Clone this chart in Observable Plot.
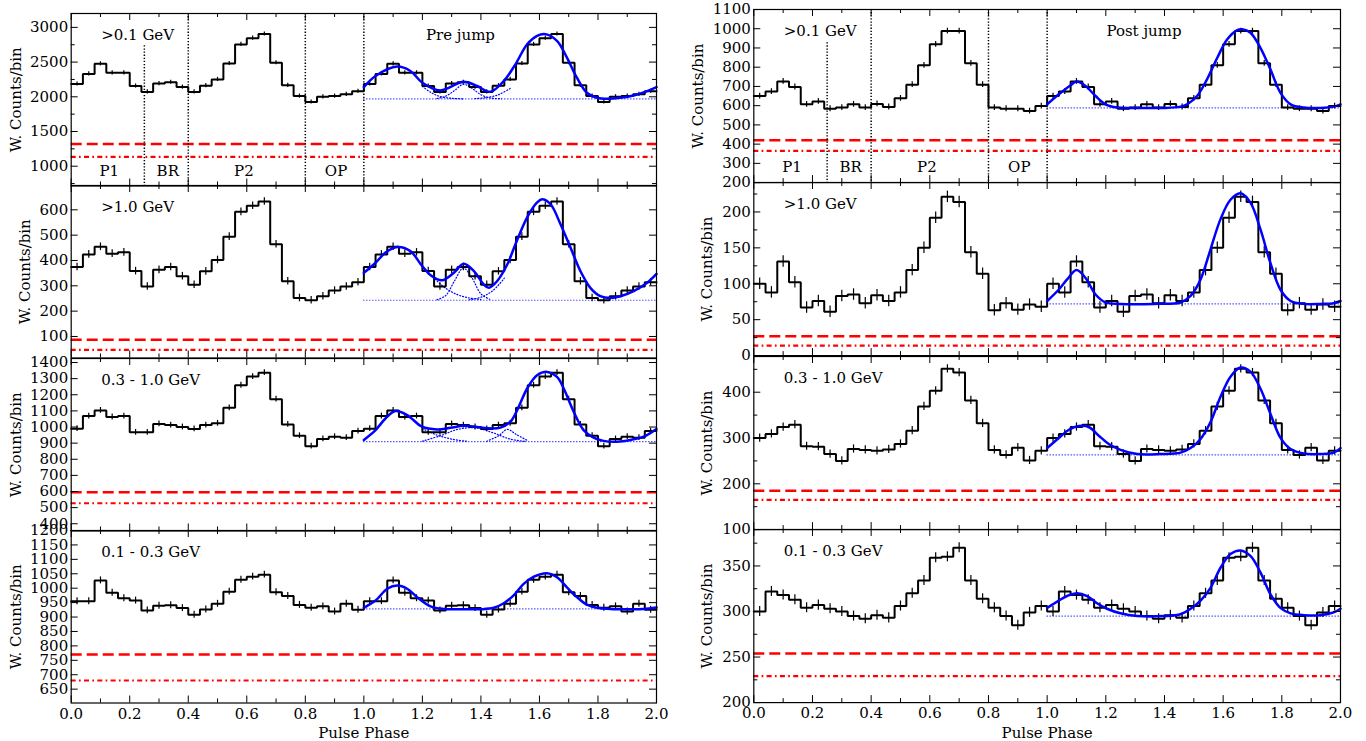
<!DOCTYPE html>
<html>
<head>
<meta charset="utf-8">
<script src="https://cdn.jsdelivr.net/npm/d3@7"></script>
<script src="https://cdn.jsdelivr.net/npm/@observablehq/plot@0.6"></script>
<style>
html,body{margin:0;padding:0;background:#fff;}
#chart{position:relative;width:1366px;height:741px;overflow:hidden;background:#fff;}
#chart svg{position:absolute;overflow:visible;}
</style>
</head>
<body>
<div id="chart"></div>
<script>
// ---------- categories / labels ----------
const nBins = 25, binWidth = 0.04;
const regionBounds = [0.25, 0.4, 0.8, 1.0];
const regionNames = ["P1", "BR", "P2", "OP"];
const regionLabelPhase = [0.13, 0.33, 0.59, 0.905];
const xTickLabels = [0, 0.2, 0.4, 0.6, 0.8, 1.0, 1.2, 1.4, 1.6, 1.8, 2.0];
const xMinorTicks = [0.1, 0.3, 0.5, 0.7, 0.9, 1.1, 1.3, 1.5, 1.7, 1.9];
const bandLabels = [">0.1 GeV", ">1.0 GeV", "0.3 - 1.0 GeV", "0.1 - 0.3 GeV"];
const epochLabels = ["Pre jump", "Post jump"];
const epochLabelPhase = 1.33;
const yTitle = "W. Counts/bin";
const xTitle = "Pulse Phase";

// ---------- weighted counts per bin (one rotation, shown twice) ----------
const preGt01  = [2185,2330,2475,2345,2345,2155,2070,2190,2210,2140,2070,2160,2250,2480,2755,2845,2905,2490,2165,2010,1925,2000,2010,2035,2080];
const preGt1   = [374,424,454,427,432,358,297,363,374,338,304,357,402,494,592,616,633,464,318,252,243,259,281,297,314];
const pre0310  = [990,1068,1103,1062,1068,967,967,1019,1012,1000,988,1012,1023,1119,1259,1313,1337,1173,1016,946,881,926,940,934,975];
const pre0103  = [955,955,1027,984,965,957,923,939,941,931,908,926,946,988,1029,1040,1047,986,973,942,932,937,919,946,925];
const postGt01 = [650,673,726,697,607,622,584,590,607,590,609,593,638,709,810,919,988,988,820,709,590,584,584,572,598];
const postGt1  = [100,88,131,102,67,76,61,83,85,73,84,76,88,119,150,192,221,214,144,114,63,73,64,71,68];
const post0310 = [300,309,324,329,282,281,265,250,276,274,272,275,287,316,369,403,451,443,382,332,274,263,279,251,272];
const post0103 = [300,322,318,313,304,307,303,300,295,292,296,293,306,320,334,359,360,370,334,314,304,295,285,299,306];

// error bar half-heights
const preErr  = [30, 15, 18, 12];
const postErr = [15, 8, 9, 5.5];

// background levels (red) and fit baselines (blue dotted)
const preDashed   = [1320, 87, 595, 770];
const preDashDot  = [1135, 47, 527, 680];
const postDashed  = [420, 27, 185, 254];
const postDashDot = [365, 14, 165, 229];
const preBase  = [1970, 243, 909, 928];
const postBase = [588, 72, 263, 295];
const brLineTop = [2735, 927];

// y axes
const preYDomain  = [[715, 3200], [15, 696], [355, 1425], [602, 1200]];
const postYDomain = [[200, 1100], [0, 241], [100, 478], [200, 390]];
const preYTicks  = [[1000,1500,2000,2500,3000],[100,200,300,400,500,600],[400,500,600,700,800,900,1000,1100,1200,1300,1400],[650,700,750,800,850,900,950,1000,1050,1100,1150,1200]];
const postYTicks = [[200,300,400,500,600,700,800,900,1000,1100],[0,50,100,150,200],[100,200,300,400],[200,250,300,350]];
const preYMinorStep  = [250, 100, 100, 50];
const postYMinorStep = [100, 25, 50, 25];

// ---------- fitted light curves [phase, value] ----------
const fitPreGt01 = [[1.0,2140],[1.04,2300],[1.114,2435],[1.159,2372],[1.2,2203],[1.261,2092],[1.341,2217],[1.387,2155],[1.432,2072],[1.478,2227],[1.518,2468],[1.558,2758],[1.592,2879],[1.62,2903],[1.66,2807],[1.694,2565],[1.728,2275],[1.762,2058],[1.796,1986],[1.836,1971],[1.876,1986],[1.922,2019],[1.968,2082],[2.0,2140]];
const fitPreGt1 = [[1.0,351],[1.04,391],[1.074,431],[1.114,453],[1.159,437],[1.199,378],[1.228,342],[1.267,322],[1.307,351],[1.341,387],[1.376,358],[1.41,305],[1.427,292],[1.455,318],[1.49,384],[1.518,464],[1.558,570],[1.592,629],[1.609,642],[1.638,622],[1.672,543],[1.706,451],[1.74,358],[1.774,292],[1.808,259],[1.843,252],[1.877,259],[1.922,279],[1.968,312],[2.0,347]];
const fitPre0310 = [[1.0,920],[1.04,981],[1.074,1053],[1.108,1099],[1.148,1074],[1.199,1002],[1.25,985],[1.296,995],[1.341,1008],[1.387,1000],[1.421,992],[1.467,996],[1.501,1033],[1.524,1105],[1.558,1239],[1.592,1321],[1.626,1342],[1.66,1311],[1.683,1239],[1.717,1095],[1.751,981],[1.785,934],[1.819,914],[1.865,909],[1.911,920],[1.956,940],[2.0,988]];
const fitPre0103 = [[1.0,932],[1.04,957],[1.08,998],[1.114,1009],[1.148,998],[1.182,969],[1.228,937],[1.273,928],[1.341,927],[1.398,927],[1.444,932],[1.478,948],[1.512,975],[1.546,1015],[1.581,1040],[1.626,1052],[1.66,1038],[1.694,1003],[1.728,969],[1.762,943],[1.796,932],[1.842,928],[1.911,927],[1.956,928],[2.0,933]];
const fitPostGt01 = [[1.0,607],[1.04,659],[1.08,706],[1.1,725],[1.131,702],[1.165,650],[1.199,607],[1.239,590],[1.307,588],[1.398,588],[1.455,595],[1.477,607],[1.511,650],[1.545,737],[1.58,849],[1.614,945],[1.648,993],[1.665,997],[1.693,979],[1.727,901],[1.761,789],[1.795,668],[1.83,607],[1.875,590],[1.932,588],[1.977,595],[2.0,607]];
const fitPostGt1 = [[1.0,76],[1.04,92],[1.068,106],[1.1,119],[1.131,108],[1.165,85],[1.199,74],[1.25,72],[1.364,72],[1.455,74],[1.489,83],[1.523,106],[1.557,148],[1.591,190],[1.625,217],[1.659,226],[1.693,213],[1.727,176],[1.761,129],[1.795,92],[1.83,76],[1.875,72],[1.932,72],[1.977,73],[2.0,76]];
const fitPost0310 = [[1.0,278],[1.04,300],[1.074,318],[1.108,326],[1.142,324],[1.176,305],[1.21,287],[1.25,274],[1.307,265],[1.386,265],[1.455,268],[1.489,278],[1.523,298],[1.557,335],[1.591,390],[1.625,434],[1.659,454],[1.693,445],[1.727,408],[1.761,353],[1.795,301],[1.83,276],[1.875,266],[1.932,265],[1.977,268],[2.0,278]];
const fitPost0103 = [[1.0,304],[1.04,312],[1.068,317],[1.102,320],[1.136,317],[1.17,309],[1.204,303],[1.25,298],[1.307,295],[1.398,295],[1.455,297],[1.489,303],[1.523,312],[1.557,326],[1.591,348],[1.625,363],[1.659,367],[1.693,361],[1.727,343],[1.761,319],[1.795,304],[1.83,298],[1.875,296],[1.932,296],[1.977,299],[2.0,303]];

// individual fit components (visible parts, dotted)
const compPreGt01 = [
  [[1.2,2150],[1.23,2060],[1.26,2005],[1.3,1978],[1.34,1971]],
  [[1.25,1975],[1.28,2010],[1.31,2090],[1.34,2180],[1.37,2120],[1.40,2030],[1.43,1985],[1.47,1972]],
  [[1.38,1975],[1.42,1990],[1.46,2030],[1.5,2120]]
];
const compPreGt1 = [
  [[1.2,378],[1.24,330],[1.28,290],[1.32,265],[1.36,252],[1.4,246]],
  [[1.25,245],[1.28,262],[1.31,320],[1.34,370],[1.37,330],[1.40,268],[1.43,247]],
  [[1.36,245],[1.40,255],[1.44,280],[1.48,330]]
];
const compPre0310 = [
  [[1.2,990],[1.25,950],[1.3,925],[1.35,912]],
  [[1.2,912],[1.26,945],[1.32,985],[1.38,995],[1.44,965],[1.5,925],[1.55,911]],
  [[1.42,912],[1.46,945],[1.49,985],[1.52,955],[1.56,915]]
];

// ---------- layout ----------
const W = 672;
const cols = [
  {left: 0,   mL: 70.7, mR: 16, tops: [12.5, 185, 357.5, 530],    h: 172.5},
  {left: 683, mL: 70.3, mR: 15, tops: [9.3, 182.4, 355.5, 528.6], h: 173.1}
];
const FONT = "'DejaVu Serif', serif";

const panels = [];
const preVals = [preGt01, preGt1, pre0310, pre0103];
const postVals = [postGt01, postGt1, post0310, post0103];
const preFits = [fitPreGt01, fitPreGt1, fitPre0310, fitPre0103];
const postFits = [fitPostGt01, fitPostGt1, fitPost0310, fitPost0103];
const preComps = [compPreGt01, compPreGt1, compPre0310, []];
for (let r = 0; r < 4; r++) {
  panels.push({col: 0, row: r, vals: preVals[r], err: preErr[r], dash: preDashed[r], dashdot: preDashDot[r],
    base: preBase[r], domain: preYDomain[r], ticks: preYTicks[r], minor: preYMinorStep[r], fit: preFits[r], comps: preComps[r]});
  panels.push({col: 1, row: r, vals: postVals[r], err: postErr[r], dash: postDashed[r], dashdot: postDashDot[r],
    base: postBase[r], domain: postYDomain[r], ticks: postYTicks[r], minor: postYMinorStep[r], fit: postFits[r], comps: []});
}

const chart = document.getElementById("chart");

function drawPanel(p) {
  const col = cols[p.col];
  const top = col.tops[p.row];
  const mT = 14, mB = p.row === 3 ? 46 : 14;
  const H = mT + col.h + mB;
  const plotW = W - col.mL - col.mR, plotH = col.h;
  const majLen = 7, minLen = 4;

  const stepData = d3.range(2 * nBins).map(i => ({x: i * binWidth, y: p.vals[i % nBins]}));
  stepData.push({x: 2, y: p.vals[nBins - 1]});
  const errData = d3.range(2 * nBins).map(i => ({x: (i + 0.5) * binWidth, lo: p.vals[i % nBins] - p.err, hi: p.vals[i % nBins] + p.err}));

  const [d0, d1] = p.domain;
  const minorY = d3.range(Math.ceil(d0 / p.minor) * p.minor, d1 + 1e-9, p.minor).filter(v => !p.ticks.includes(v));
  const majorY = p.ticks.filter(v => v >= d0 - 1e-9 && v <= d1 + 1e-9);

  const marks = [];
  // background lines
  marks.push(Plot.ruleY([p.dash], {stroke: "red", strokeWidth: 2.5, strokeDasharray: "11,5"}));
  marks.push(Plot.ruleY([p.dashdot], {stroke: "red", strokeWidth: 2.2, strokeDasharray: "5,3.3,1.7,3.3"}));
  // region boundaries on top panels
  if (p.row === 0) {
    marks.push(Plot.ruleX(regionBounds.slice(1), {stroke: "black", strokeWidth: 1.5, strokeDasharray: "1.3,1.8"}));
    marks.push(Plot.ruleX([regionBounds[0]], {y1: brLineTop[p.col], y2: d0, stroke: "black", strokeWidth: 1.5, strokeDasharray: "1.3,1.8"}));
    marks.push(Plot.text(regionNames, {x: (d, i) => regionLabelPhase[i], frameAnchor: "bottom", dy: -15, lineAnchor: "middle", fontSize: 15, fill: "black"}));
    marks.push(Plot.text([epochLabels[p.col]], {x: () => epochLabelPhase, frameAnchor: "top", dy: 22, lineAnchor: "middle", fontSize: 15, fill: "black"}));
  }
  // fit baseline & components
  marks.push(Plot.ruleY([p.base], {x1: 1, x2: 2, stroke: "blue", strokeWidth: 1.2, strokeDasharray: "1,2"}));
  p.comps.forEach(c => marks.push(Plot.line(c, {x: d => d[0], y: d => d[1], curve: "catmull-rom", stroke: "blue", strokeWidth: 1.2, strokeDasharray: "1,2"})));
  // histogram + errors
  marks.push(Plot.line(stepData, {x: "x", y: "y", curve: "step-after", stroke: "black", strokeWidth: 2, strokeLinejoin: "miter"}));
  marks.push(Plot.ruleX(errData, {x: "x", y1: "lo", y2: "hi", stroke: "black", strokeWidth: 1.2}));
  // fit curve
  marks.push(Plot.line(p.fit, {x: d => d[0], y: d => d[1], curve: "catmull-rom", stroke: "blue", strokeWidth: 2.5}));
  // frame and inward ticks
  marks.push(Plot.frame({stroke: "black", strokeWidth: 1.2}));
  marks.push(Plot.tickY(majorY, {y: d => d, insetRight: plotW - majLen, stroke: "black"}));
  marks.push(Plot.tickY(majorY, {y: d => d, insetLeft: plotW - majLen, stroke: "black"}));
  marks.push(Plot.tickY(minorY, {y: d => d, insetRight: plotW - minLen, stroke: "black"}));
  marks.push(Plot.tickY(minorY, {y: d => d, insetLeft: plotW - minLen, stroke: "black"}));
  marks.push(Plot.tickX(xTickLabels, {x: d => d, insetBottom: plotH - majLen, stroke: "black"}));
  marks.push(Plot.tickX(xTickLabels, {x: d => d, insetTop: plotH - majLen, stroke: "black"}));
  marks.push(Plot.tickX(xMinorTicks, {x: d => d, insetBottom: plotH - minLen, stroke: "black"}));
  marks.push(Plot.tickX(xMinorTicks, {x: d => d, insetTop: plotH - minLen, stroke: "black"}));
  // y tick labels & title
  marks.push(Plot.axisY(majorY, {anchor: "left", tickSize: 0, tickPadding: 3, fontSize: 15, label: null, tickFormat: d => String(d)}));
  const maxLen = d3.max(majorY, v => String(v).length);
  marks.push(Plot.text([yTitle], {frameAnchor: "left", rotate: -90, dx: -(19 + 9.1 * maxLen), textAnchor: "middle", lineAnchor: "middle", fontSize: 15, fill: "black"}));
  // panel label
  marks.push(Plot.text([bandLabels[p.row]], {frameAnchor: "top-left", dx: 30, dy: 22, textAnchor: "start", lineAnchor: "middle", fontSize: 15, fill: "black"}));
  if (p.row === 3) {
    marks.push(Plot.axisX(xTickLabels, {anchor: "bottom", tickSize: 0, tickPadding: 5, fontSize: 15, label: null, tickFormat: d3.format(".1f")}));
    marks.push(Plot.text([xTitle], {frameAnchor: "bottom", dy: 30.5, lineAnchor: "middle", fontSize: 15, fill: "black"}));
  }

  const svg = Plot.plot({
    width: W, height: H,
    marginLeft: col.mL, marginRight: col.mR, marginTop: mT, marginBottom: mB,
    x: {domain: [0, 2], axis: null},
    y: {domain: p.domain, axis: null},
    style: {fontFamily: FONT, fontSize: "15px", overflow: "visible", background: "transparent", color: "black"},
    marks
  });
  svg.style.left = col.left + "px";
  svg.style.top = (top - mT) + "px";
  chart.appendChild(svg);
}

panels.forEach(drawPanel);
</script>
</body>
</html>
